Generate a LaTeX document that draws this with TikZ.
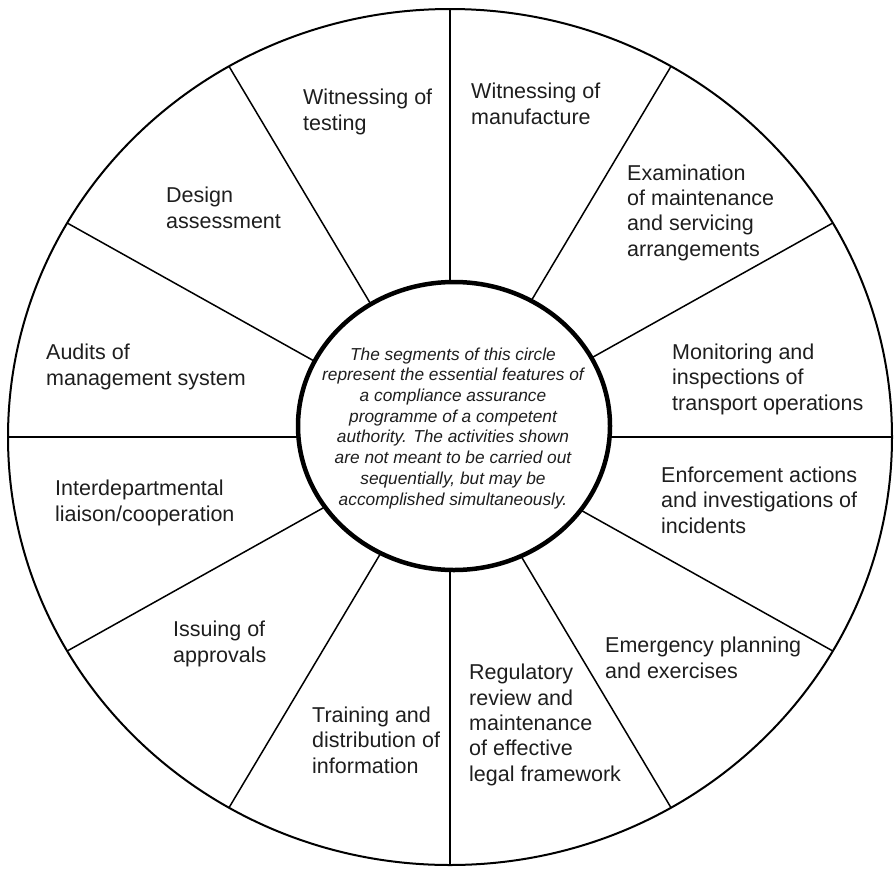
\documentclass[tikz,border=0pt]{standalone}
\usepackage{fontspec}
\setmainfont{Liberation Sans}
\usepackage{tikz}
\usetikzlibrary{positioning}
\definecolor{inkcolor}{RGB}{30, 30, 30}

\begin{document}
\begin{tikzpicture}[
    x=1pt, y=-1pt,
    segtext/.style={anchor=base west, inner sep=0pt, align=left, text=inkcolor, font=\fontsize{21.5}{25.3}\selectfont},
    hubtext/.style={anchor=base, inner sep=0pt, align=center, text=inkcolor, font=\itshape\fontsize{17.3}{20.7}\selectfont},
    rim/.style={draw=black, line width=2pt},
    spoke/.style={draw=black, line width=1.5pt},
    hub/.style={draw=black, line width=4.5pt, fill=white}
]
\useasboundingbox (0,0) rectangle (894,868);

% Wheel
\coordinate (centre) at (450,437);
\draw[rim] (centre) ellipse [x radius=442pt, y radius=428pt];
\foreach \a in {0,30,...,330}
    \draw[spoke] (centre) -- ({450+442*cos(\a)},{437-428*sin(\a)});
\draw[hub] (454,426) ellipse [x radius=156pt, y radius=144pt];

% Centre text (placed by its last line)
\node[hubtext] (note) at (453,505) {The segments of this circle\\represent the essential features of\\a compliance assurance\\programme of a competent\\authority. The activities shown\\are not meant to be carried out\\sequentially, but may be\\accomplished simultaneously.};

% Segments (placed by their last lines)
\node[segtext] (testing) at (303,130) {Witnessing of\\testing};
\node[segtext] (manufacture) at (471,124) {Witnessing of\\manufacture};
\node[segtext] (maintenance) at (627,256) {Examination\\of maintenance\\and servicing\\arrangements};
\node[segtext] (monitoring) at (672,410) {Monitoring and\\inspections of\\transport operations};
\node[segtext] (enforcement) at (661,533) {Enforcement actions\\and investigations of\\incidents};
\node[segtext] (emergency) at (605,678) {Emergency planning\\and exercises};
\node[segtext] (regulatory) at (469,781) {Regulatory\\review and\\maintenance\\of effective\\legal framework};
\node[segtext] (training) at (312,773) {Training and\\distribution of\\information};
\node[segtext] (approvals) at (173,662) {Issuing of\\approvals};
\node[segtext] (liaison) at (55,521) {Interdepartmental\\liaison/cooperation};
\node[segtext] (audits) at (46,385) {Audits of\\management system};
\node[segtext] (design) at (166,228) {Design\\assessment};

\end{tikzpicture}
\end{document}
